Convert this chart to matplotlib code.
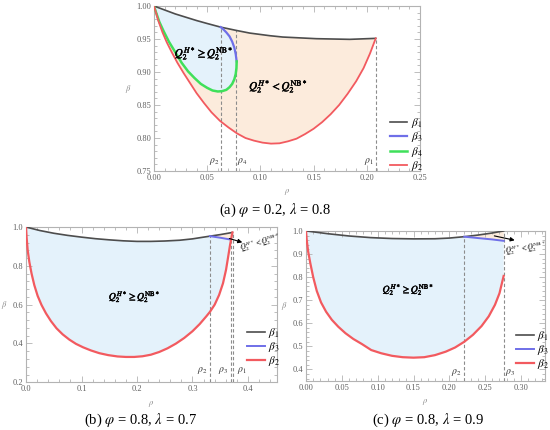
import matplotlib
matplotlib.use("Agg")
import matplotlib.pyplot as plt
import matplotlib.patheffects as pe
from matplotlib.ticker import MultipleLocator, FormatStrFormatter

plt.rcParams['font.family'] = ['Liberation Serif', 'DejaVu Serif']
plt.rcParams['mathtext.fontset'] = 'stix'

# ---- panel (a): phi = 0.2, lambda = 0.8 ----
a_b1_rho = [0.0, 0.01, 0.02, 0.03, 0.04, 0.05, 0.0627, 0.0774, 0.09, 0.109, 0.121, 0.1526, 0.184, 0.2084]
a_b1 = [1.0, 0.994, 0.988, 0.983, 0.978, 0.9735, 0.968, 0.963, 0.959, 0.955, 0.953, 0.9505, 0.9495, 0.951]

a_b3_rho = [0.0627, 0.065, 0.068, 0.071, 0.0735, 0.0755, 0.0768, 0.0777]
a_b3 = [0.968, 0.965, 0.960, 0.954, 0.946, 0.937, 0.927, 0.916]

a_b4_rho = [0.0, 0.002, 0.005, 0.009, 0.014, 0.020, 0.026, 0.032, 0.038, 0.044, 0.050, 0.055, 0.060,
            0.064, 0.068, 0.071, 0.0735, 0.0755, 0.0768, 0.0775, 0.0777]
a_b4 = [1.0, 0.99, 0.976, 0.962, 0.946, 0.930, 0.914, 0.901, 0.891, 0.882, 0.876, 0.872, 0.8705,
        0.871, 0.873, 0.877, 0.882, 0.889, 0.897, 0.906, 0.916]

a_b2_rho = [0.0, 0.004, 0.008, 0.012, 0.017, 0.022, 0.028, 0.034, 0.040, 0.047, 0.054, 0.062, 0.070,
            0.078, 0.086, 0.094, 0.102, 0.110, 0.118, 0.126, 0.134, 0.142, 0.150, 0.158, 0.166, 0.174,
            0.182, 0.190, 0.197, 0.203, 0.2084]
a_b2 = [1.0, 0.978, 0.960, 0.945, 0.929, 0.914, 0.898, 0.883, 0.868, 0.853, 0.839, 0.826, 0.816,
        0.807, 0.800, 0.796, 0.793, 0.7915, 0.792, 0.795, 0.799, 0.806, 0.814, 0.824, 0.836, 0.850,
        0.867, 0.886, 0.906, 0.928, 0.951]

a_rho_marks = [0.0627, 0.0774, 0.2084]
a_rho_names = [r'$\rho_2$', r'$\rho_4$', r'$\rho_1$']

# ---- panel (b): phi = 0.8, lambda = 0.7 ----
b_b1_rho = [0.0, 0.025, 0.05, 0.075, 0.1, 0.125, 0.15, 0.175, 0.2, 0.225, 0.25, 0.277, 0.3, 0.3155,
            0.3315, 0.35, 0.372]
b_b1 = [1.0, 0.982, 0.968, 0.957, 0.948, 0.94, 0.934, 0.929, 0.926, 0.926, 0.928, 0.932, 0.939, 0.946,
        0.953, 0.961, 0.972]

b_b3_rho = [0.3315, 0.35, 0.3695]
b_b3 = [0.953, 0.945, 0.935]

b_b2_rho = [0.0, 0.001, 0.003, 0.006, 0.01, 0.015, 0.021, 0.028, 0.036, 0.045, 0.055, 0.066, 0.078,
            0.09, 0.103, 0.117, 0.132, 0.148, 0.165, 0.18, 0.195, 0.21, 0.225, 0.24, 0.255, 0.27,
            0.285, 0.3, 0.313, 0.325, 0.3315, 0.34, 0.348, 0.355, 0.3605, 0.3645, 0.3676, 0.3695, 0.372]
b_b2 = [1.0, 0.95, 0.88, 0.82, 0.76, 0.70, 0.645, 0.598, 0.555, 0.515, 0.478, 0.447, 0.42,
        0.398, 0.38, 0.364, 0.35, 0.34, 0.333, 0.3305, 0.3305, 0.334, 0.342, 0.356, 0.375, 0.399,
        0.428, 0.463, 0.5, 0.54, 0.563, 0.60, 0.65, 0.71, 0.78, 0.85, 0.905, 0.935, 0.972]

b_rho_marks = [0.3315, 0.3688, 0.3736]
b_rho_names = [r'$\rho_2$', r'$\rho_3$', r'$\rho_1$']

# ---- panel (c): phi = 0.8, lambda = 0.9 ----
c_b1_rho = [0.0, 0.03, 0.06, 0.09, 0.12, 0.15, 0.18, 0.2, 0.2209, 0.24, 0.26, 0.2758]
c_b1 = [1.0, 0.988, 0.978, 0.971, 0.967, 0.9655, 0.966, 0.969, 0.975, 0.982, 0.991, 1.0]

c_b3_rho = [0.2209, 0.24, 0.26, 0.2758]
c_b3 = [0.975, 0.969, 0.963, 0.957]

c_b2_rho = [0.0, 0.001, 0.003, 0.006, 0.01, 0.015, 0.021, 0.028, 0.036, 0.045, 0.055, 0.066, 0.078,
            0.091, 0.105, 0.12, 0.135, 0.15, 0.165, 0.18, 0.195, 0.208, 0.2209, 0.233, 0.245, 0.255,
            0.2637, 0.27, 0.2758]
c_b2 = [1.0, 0.96, 0.91, 0.86, 0.80, 0.74, 0.69, 0.65, 0.615, 0.585, 0.557, 0.532, 0.51,
        0.484, 0.47, 0.459, 0.453, 0.451, 0.453, 0.462, 0.477, 0.495, 0.52, 0.55, 0.588, 0.63,
        0.68, 0.73, 0.805]

c_rho_marks = [0.2209, 0.2758]
c_rho_names = [r'$\rho_2$', r'$\rho_3$']

# colours
col_b1 = '#4d4d4d'
col_b3 = '#6f6fe8'
col_b4 = '#3fe05a'
col_b2 = '#f25a5f'
fill_blue = '#e4f2fb'
fill_orange = '#fcebdc'
frame_col = '#b3b3b3'
tick_col = '#606060'

bold = [pe.withStroke(linewidth=0.3, foreground='black')]

fig = plt.figure(figsize=(5.5, 4.3), dpi=100)


def setup(ax, xlim, ylim, xmaj, xmin, ymaj, ymin, xfmt, yfmt):
    ax.set_xlim(*xlim)
    ax.set_ylim(*ylim)
    ax.xaxis.set_major_locator(MultipleLocator(xmaj))
    ax.xaxis.set_minor_locator(MultipleLocator(xmin))
    ax.yaxis.set_major_locator(MultipleLocator(ymaj))
    ax.yaxis.set_minor_locator(MultipleLocator(ymin))
    ax.xaxis.set_major_formatter(FormatStrFormatter(xfmt))
    ax.yaxis.set_major_formatter(FormatStrFormatter(yfmt))
    ax.tick_params(which='both', direction='in', top=True, right=True, color=frame_col,
                   labelsize=6, labelcolor=tick_col, width=0.6, pad=2)
    ax.tick_params(which='major', length=4)
    ax.tick_params(which='minor', length=2)
    for s in ax.spines.values():
        s.set_color(frame_col)
        s.set_linewidth(0.8)
    ax.set_xlabel(r'$\rho$', fontsize=6, color='#888888', labelpad=4)
    ax.set_ylabel(r'$\beta$', fontsize=6, color='#888888', rotation=0, labelpad=6, va='center')


def mark_rhos(ax, marks, names, rho_b1, b1, ybot, label_y, offsets):
    for r, name, off in zip(marks, names, offsets):
        # top of the dashed line = upper boundary at that rho
        top = min(rho_b1, key=lambda v: abs(v - r))
        ytop = b1[rho_b1.index(top)]
        ax.vlines(r, ybot, ytop, colors='#8c8c8c', linestyles=(0, (3, 2)), lw=0.8, zorder=3)
        ax.text(r + off, label_y, name, fontsize=7, color='#333333', ha='center', va='center')


def legend(ax, anchor, labelspacing):
    ax.legend(loc='upper left', bbox_to_anchor=anchor, frameon=False, fontsize=8,
              handlelength=1.6, handletextpad=0.3, labelspacing=labelspacing, borderpad=0)


# ---------- (a) ----------
ax = fig.add_axes([0.28, 0.6023, 0.4836, 0.3837])
ax.fill(a_b1_rho + a_b2_rho[::-1], a_b1 + a_b2[::-1], color=fill_orange, lw=0, zorder=1)
k = a_b1_rho.index(0.0627)
ax.fill(a_b1_rho[:k + 1] + a_b3_rho + a_b4_rho[::-1], a_b1[:k + 1] + a_b3 + a_b4[::-1],
        color=fill_blue, lw=0, zorder=1)
ax.plot(a_b1_rho, a_b1, color=col_b1, lw=1.2, label=r'$\beta_1$', zorder=4)
ax.plot(a_b3_rho, a_b3, color=col_b3, lw=1.6, label=r'$\beta_3$', zorder=4)
ax.plot(a_b4_rho, a_b4, color=col_b4, lw=1.8, label=r'$\beta_4$', zorder=4)
ax.plot(a_b2_rho, a_b2, color=col_b2, lw=1.3, label=r'$\beta_2$', zorder=4)
mark_rhos(ax, a_rho_marks, a_rho_names, a_b1_rho, a_b1, 0.75, 0.765, [-0.006, 0.006, -0.006])
ax.text(0.047, 0.928, r'$Q_2^{H*} \geq Q_2^{\mathrm{NB}*}$', fontsize=8, ha='center', va='center',
        zorder=5, path_effects=bold)
ax.text(0.117, 0.878, r'$Q_2^{H*} < Q_2^{\mathrm{NB}*}$', fontsize=8, ha='center', va='center',
        zorder=5, path_effects=bold)
setup(ax, (0, 0.25), (0.75, 1.0), 0.05, 0.01, 0.05, 0.01, '%.2f', '%.2f')
legend(ax, (0.865, 0.37), 0.05)

# ---------- (b) ----------
ax = fig.add_axes([0.0473, 0.111, 0.456, 0.361])
ax.fill(b_b1_rho + b_b2_rho[::-1], b_b1 + b_b2[::-1], color=fill_orange, lw=0, zorder=1)
k = b_b1_rho.index(0.3315)
ax.fill(b_b1_rho[:k + 1] + b_b3_rho + b_b2_rho[-2::-1], b_b1[:k + 1] + b_b3 + b_b2[-2::-1],
        color=fill_blue, lw=0, zorder=1)
ax.plot(b_b1_rho, b_b1, color=col_b1, lw=1.2, label=r'$\beta_1$', zorder=4)
ax.plot(b_b3_rho, b_b3, color=col_b3, lw=1.4, label=r'$\beta_3$', zorder=4)
ax.plot(b_b2_rho, b_b2, color=col_b2, lw=1.6, label=r'$\beta_2$', zorder=4)
mark_rhos(ax, b_rho_marks, b_rho_names, b_b1_rho, b_b1, 0.2, 0.262, [-0.013, -0.014, 0.015])
ax.text(0.196, 0.642, r'$Q_2^{H*} \geq Q_2^{\mathrm{NB}*}$', fontsize=7, ha='center', va='center',
        zorder=5, path_effects=bold)
ax.annotate('', xy=(0.3946, 0.917), xytext=(0.3616, 0.945),
            arrowprops=dict(arrowstyle='-|>', color='black', lw=0.8, mutation_scale=6), zorder=6)
ax.text(0.421, 0.918, r'$Q_2^{H*} < Q_2^{\mathrm{NB}*}$', fontsize=5.5, ha='center', va='center',
        rotation=16, zorder=6)
setup(ax, (0, 0.452), (0.2, 1.0), 0.1, 0.02, 0.2, 0.04, '%.1f', '%.1f')
legend(ax, (0.86, 0.4), 0.0)

# ---------- (c) ----------
ax = fig.add_axes([0.5564, 0.114, 0.4345, 0.349])
k = c_b1_rho.index(0.2209)
ax.fill(c_b1_rho[k:] + c_b3_rho[::-1], c_b1[k:] + c_b3[::-1], color=fill_orange, lw=0, zorder=1)
ax.fill(c_b1_rho[:k + 1] + c_b3_rho + c_b2_rho[::-1], c_b1[:k + 1] + c_b3 + c_b2[::-1],
        color=fill_blue, lw=0, zorder=1)
ax.plot(c_b1_rho, c_b1, color=col_b1, lw=1.2, label=r'$\beta_1$', zorder=4)
ax.plot(c_b3_rho, c_b3, color=col_b3, lw=1.4, label=r'$\beta_3$', zorder=4)
ax.plot(c_b2_rho, c_b2, color=col_b2, lw=1.6, label=r'$\beta_2$', zorder=4)
mark_rhos(ax, c_rho_marks, c_rho_names, c_b1_rho, c_b1, 0.35, 0.386, [-0.011, 0.009])
ax.text(0.143, 0.747, r'$Q_2^{H*} \geq Q_2^{\mathrm{NB}*}$', fontsize=7, ha='center', va='center',
        zorder=5, path_effects=bold)
ax.annotate('', xy=(0.295, 0.957), xytext=(0.259, 0.981),
            arrowprops=dict(arrowstyle='-|>', color='black', lw=0.8, mutation_scale=6), zorder=6)
ax.text(0.307, 0.925, r'$Q_2^{H*} < Q_2^{\mathrm{NB}*}$', fontsize=5.5, ha='center', va='center',
        rotation=8, zorder=6)
setup(ax, (0, 0.3335), (0.35, 1.0), 0.05, 0.01, 0.1, 0.02, '%.2f', '%.1f')
legend(ax, (0.855, 0.385), 0.0)

# captions
fig.text(0.5, 0.512, r'(a) $\varphi$ = 0.2, $\lambda$ = 0.8', fontsize=10.5, ha='center', va='center')
fig.text(0.255, 0.023, r'(b) $\varphi$ = 0.8, $\lambda$ = 0.7', fontsize=10.5, ha='center', va='center')
fig.text(0.778, 0.023, r'(c) $\varphi$ = 0.8, $\lambda$ = 0.9', fontsize=10.5, ha='center', va='center')

fig.savefig('out.png', dpi=100)
